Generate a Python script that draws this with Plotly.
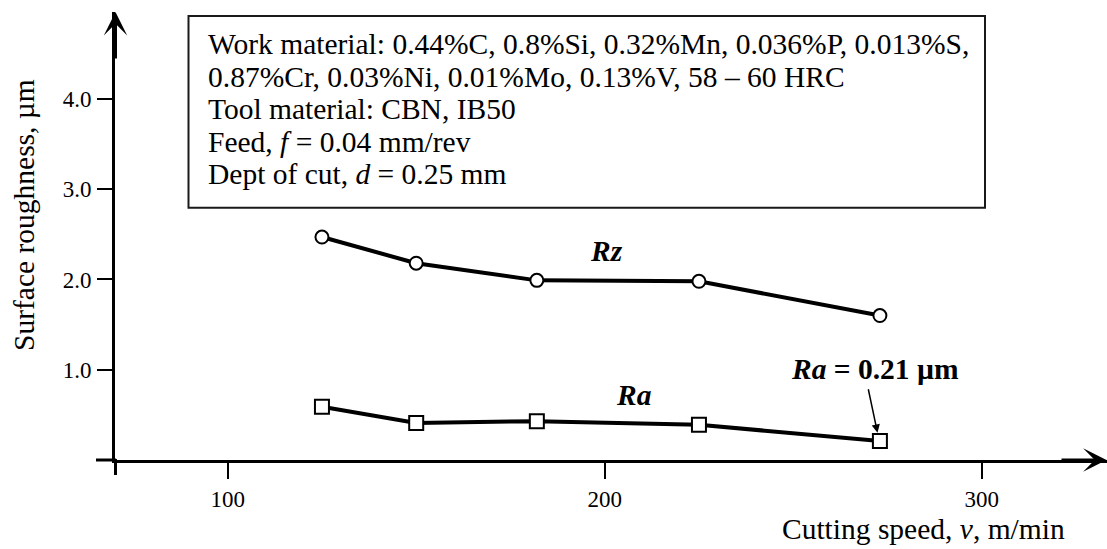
import plotly.graph_objects as go

# Cutting speed (m/min) and measured surface roughness (µm)
speed = [125, 150, 182, 225, 273]
rz_values = [2.47, 2.18, 1.99, 1.98, 1.60]
ra_values = [0.59, 0.41, 0.43, 0.39, 0.21]

x_ticks = [100, 200, 300]
x_tick_text = ["100", "200", "300"]
y_ticks = [1, 2, 3, 4]
y_tick_text = ["1.0", "2.0", "3.0", "4.0"]

info_lines = [
    "Work material: 0.44%C, 0.8%Si, 0.32%Mn, 0.036%P, 0.013%S,",
    "0.87%Cr, 0.03%Ni, 0.01%Mo, 0.13%V, 58 \u2013 60 HRC",
    "Tool material: CBN, IB50",
    "Feed, <i>f</i> = 0.04 mm/rev",
    "Dept of cut, <i>d</i> = 0.25 mm",
]

W, H = 1107, 549
ML, MR, MT, MB = 115, 0, 12, 89
FONT = "Liberation Serif, Times New Roman, serif"
TXT = 29.5

# pixel <-> data helpers (100 m/min at 227.7 px, 3.77 px per m/min; 90.33 px per µm)
def vx(px):
    return 100 + (px - 227.7) / 3.77

def vy(py):
    return (460.3 - py) / 90.33

def paper_x(px):
    return (px - ML) / (W - ML - MR)

def paper_y(py):
    return (H - MB - py) / (H - MB - MT)

fig = go.Figure()

fig.add_trace(go.Scatter(
    x=speed, y=rz_values, mode="lines+markers",
    line=dict(color="black", width=4),
    marker=dict(symbol="circle", size=13, color="white",
                line=dict(color="black", width=2)),
    cliponaxis=False, showlegend=False, name="Rz",
))
fig.add_trace(go.Scatter(
    x=speed, y=ra_values, mode="lines+markers",
    line=dict(color="black", width=4),
    marker=dict(symbol="square", size=14, color="white",
                line=dict(color="black", width=2)),
    cliponaxis=False, showlegend=False, name="Ra",
))

shapes = [
    # info box
    dict(type="rect", xref="x", yref="y",
         x0=vx(188.5), x1=vx(985), y0=vy(16), y1=vy(208),
         line=dict(color="#1a1a1a", width=2), fillcolor="rgba(0,0,0,0)"),
    # axis extensions past the origin
    dict(type="line", xref="paper", yref="paper",
         x0=paper_x(96), x1=paper_x(116), y0=paper_y(460), y1=paper_y(460),
         line=dict(color="black", width=3)),
    dict(type="line", xref="paper", yref="paper",
         x0=paper_x(115.5), x1=paper_x(115.5), y0=paper_y(459), y1=paper_y(475),
         line=dict(color="black", width=3)),
]

annotations = []
line_centres = [44, 77, 109, 142, 174]
for txt, cy in zip(info_lines, line_centres):
    annotations.append(dict(
        x=vx(206), y=vy(cy), xref="x", yref="y", text=txt, showarrow=False,
        xanchor="left", yanchor="middle", font=dict(family=FONT, size=TXT, color="black"),
    ))

annotations += [
    dict(x=vx(606), y=vy(251), xref="x", yref="y", text="<b><i>Rz</i></b>",
         showarrow=False, xanchor="center", yanchor="middle",
         font=dict(family=FONT, size=TXT, color="black")),
    dict(x=vx(634), y=vy(395), xref="x", yref="y", text="<b><i>Ra</i></b>",
         showarrow=False, xanchor="center", yanchor="middle",
         font=dict(family=FONT, size=TXT, color="black")),
    dict(x=vx(874.5), y=vy(369), xref="x", yref="y",
         text="<b><i>Ra</i> = 0.21 \u00b5m</b>", showarrow=False,
         xanchor="center", yanchor="middle",
         font=dict(family=FONT, size=TXT, color="black")),
    # pointer to the last Ra point
    dict(x=vx(877.5), y=vy(433), ax=vx(868), ay=vy(388),
         xref="x", yref="y", axref="x", ayref="y", text="",
         showarrow=True, arrowhead=2, arrowsize=1.1, arrowwidth=1.5, arrowcolor="black"),
    # axis arrowheads
    dict(x=vx(1106.5), y=0, ax=vx(1060), ay=0,
         xref="x", yref="y", axref="x", ayref="y", text="",
         showarrow=True, arrowhead=3, arrowsize=1.3, arrowwidth=3, arrowcolor="black"),
    dict(x=vx(115.5), y=vy(12), ax=vx(115.5), ay=vy(60),
         xref="x", yref="y", axref="x", ayref="y", text="",
         showarrow=True, arrowhead=3, arrowsize=1.3, arrowwidth=3, arrowcolor="black"),
    # axis titles
    dict(x=paper_x(923), y=paper_y(529), xref="paper", yref="paper",
         xanchor="center", yanchor="middle",
         text="Cutting speed, <i>v</i>, m/min", showarrow=False,
         font=dict(family=FONT, size=TXT, color="black")),
    dict(x=paper_x(24), y=paper_y(215), xref="paper", yref="paper",
         xanchor="center", yanchor="middle",
         text="Surface roughness, \u00b5m", showarrow=False, textangle=-90,
         font=dict(family=FONT, size=TXT, color="black")),
]

fig.update_layout(
    width=W, height=H,
    margin=dict(l=ML, r=MR, t=MT, b=MB),
    paper_bgcolor="white", plot_bgcolor="white",
    shapes=shapes, annotations=annotations,
    font=dict(family=FONT, color="black"),
    xaxis=dict(
        range=[vx(115), vx(1107)], showgrid=False, zeroline=False,
        showline=True, linecolor="black", linewidth=3,
        tickmode="array", tickvals=x_ticks, ticktext=x_tick_text,
        ticks="outside", ticklen=16, tickwidth=2, tickcolor="black",
        tickfont=dict(family=FONT, size=23, color="black"),
        ticklabelstandoff=0,
    ),
    yaxis=dict(
        range=[0, vy(12)], showgrid=False, zeroline=False,
        showline=True, linecolor="black", linewidth=3,
        tickmode="array", tickvals=y_ticks, ticktext=y_tick_text,
        ticks="outside", ticklen=15, tickwidth=2, tickcolor="black",
        tickfont=dict(family=FONT, size=23, color="black"),
        ticklabelstandoff=1,
    ),
)

fig.write_html("out.html")
